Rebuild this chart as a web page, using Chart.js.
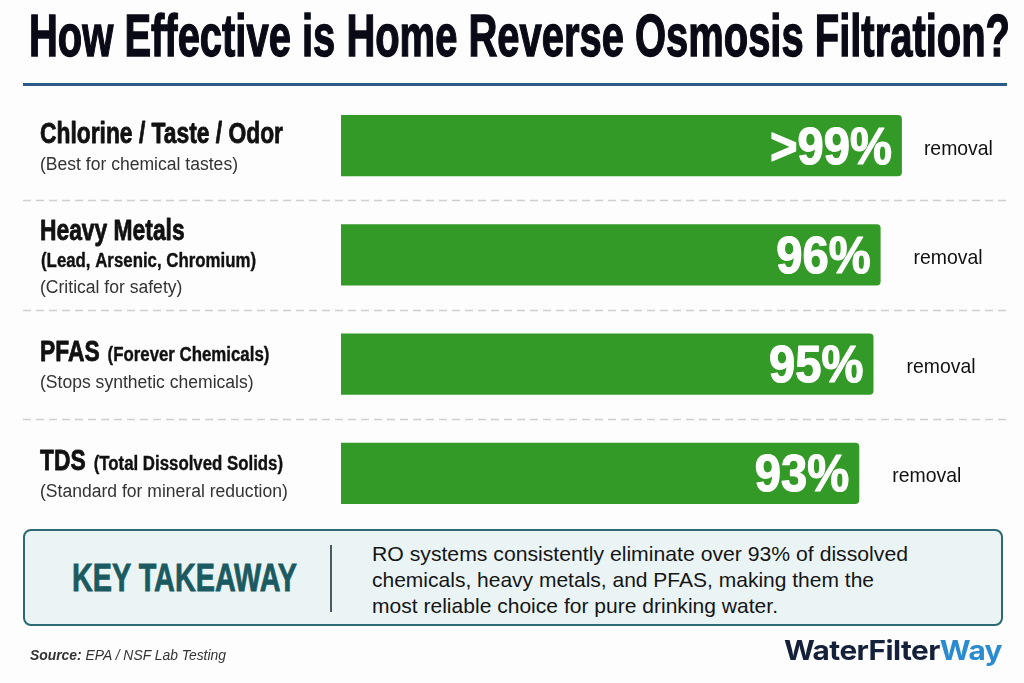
<!DOCTYPE html>
<html>
<head>
<meta charset="utf-8">
<script src="https://cdn.jsdelivr.net/npm/chart.js@4/dist/chart.umd.min.js"></script>
<style>
  body { margin: 0; width: 1024px; height: 683px; overflow: hidden; position: relative; background: #fdfdfd;
         font-family: "Liberation Sans", Arial, sans-serif; }
  #chart { position: absolute; left: 0; top: 0; }
  .fit { position: absolute; white-space: nowrap; transform-origin: 0 0; line-height: 1; }
  #title { left: 29px; top: 6px; font-size: 60px; font-weight: bold; color: #0a0a16;
           -webkit-text-stroke: 1.4px #0a0a16; }
  #rule { position: absolute; left: 23px; top: 83px; width: 984px; height: 3px; background: #2d5b89; }
  #box { position: absolute; left: 23px; top: 529px; width: 980px; height: 97px; box-sizing: border-box;
         border: 2px solid #2b6a72; border-radius: 8px; background: #eaf4f5; }
  #key { left: 72px; top: 558px; font-size: 39px; font-weight: bold; color: #1b5a60;
         -webkit-text-stroke: 0.8px #1b5a60; }
  #divider { position: absolute; left: 330px; top: 545px; width: 2px; height: 67px; background: #4a5a60; }
  .body { left: 372px; font-size: 21px; color: #151515; }
  #source { left: 30px; top: 647px; font-size: 15px; font-style: italic; color: #333; }
  #logo { left: 784px; top: 637px; font-size: 27px; font-weight: bold; color: #15213a;
          font-family: Inter, Roboto, "Noto Sans", sans-serif; letter-spacing: -0.5px; }
</style>
</head>
<body>
<canvas id="chart" width="1024" height="683"></canvas>
<div id="title" class="fit" data-w="981">How Effective is Home Reverse Osmosis Filtration?</div>
<div id="rule"></div>
<div id="box"></div>
<div id="key" class="fit" data-w="225">KEY TAKEAWAY</div>
<div id="divider"></div>
<div class="fit body" style="top:543px" data-w="536">RO systems consistently eliminate over 93% of dissolved</div>
<div class="fit body" style="top:569px" data-w="502">chemicals, heavy metals, and PFAS, making them the</div>
<div class="fit body" style="top:595px" data-w="406">most reliable choice for pure drinking water.</div>
<div id="source" class="fit" data-w="196"><b>Source:</b> EPA / NSF Lab Testing</div>
<div id="logo" class="fit" data-w="218">WaterFilter<span style="color:#2a8cce">Way</span></div>

<script>
// data
const categories = ['Chlorine / Taste / Odor', 'Heavy Metals', 'PFAS', 'TDS'];
const qualifiers = ['', '', '(Forever Chemicals)', '(Total Dissolved Solids)'];
const details = ['', '(Lead, Arsenic, Chromium)', '', ''];
const notes = ['(Best for chemical tastes)', '(Critical for safety)', '(Stops synthetic chemicals)', '(Standard for mineral reduction)'];
const removal = [99, 96, 95, 93];
const valueLabels = ['>99%', '96%', '95%', '93%'];
const unitLabel = 'removal';

// squeeze html text to the width it has in the picture
document.querySelectorAll('.fit').forEach(function (el) {
    var w = el.getBoundingClientRect().width;
    el.style.transform = 'scaleX(' + (parseFloat(el.dataset.w) / w) + ')';
});

const FAM = '"Liberation Sans", Arial, sans-serif';
const fonts = {
    main: 'bold 29px ' + FAM,
    detail: 'bold 20px ' + FAM,
    note: '18px ' + FAM,
    pct: 'bold 52px ' + FAM,
    unit: '21px ' + FAM
};

function squeeze(ctx, font, ref, target) {
    ctx.font = font;
    return target / ctx.measureText(ref).width;
}

// draws squeezed text, heavy > 0 adds an outline to thicken bold faces
function put(ctx, text, x, y, font, sx, color, align, heavy) {
    ctx.save();
    ctx.font = font;
    ctx.fillStyle = color;
    ctx.textAlign = align || 'left';
    ctx.textBaseline = 'alphabetic';
    ctx.translate(x, y);
    ctx.scale(sx, 1);
    ctx.fillText(text, 0, 0);
    if (heavy) {
        ctx.strokeStyle = color;
        ctx.lineWidth = heavy;
        ctx.lineJoin = 'round';
        ctx.strokeText(text, 0, 0);
    }
    ctx.restore();
    ctx.font = font;
    return ctx.measureText(text).width * sx;
}

const rowDecor = {
    id: 'rowDecor',
    beforeDatasetsDraw: function (chart) {
        var ctx = chart.ctx;
        var y = chart.scales.y;
        ctx.save();
        ctx.strokeStyle = '#cfcfcf';
        ctx.lineWidth = 1.5;
        ctx.setLineDash([8, 5]);
        for (var i = 0; i < categories.length - 1; i++) {
            var yy = Math.round((y.getPixelForValue(i) + y.getPixelForValue(i + 1)) / 2) + 0.5;
            ctx.beginPath();
            ctx.moveTo(23, yy);
            ctx.lineTo(1007, yy);
            ctx.stroke();
        }
        ctx.restore();
    },
    afterDatasetsDraw: function (chart) {
        var ctx = chart.ctx;
        var sMain = squeeze(ctx, fonts.main, categories[0], 243);
        var sDet = squeeze(ctx, fonts.detail, details[1], 215);
        var sNote = squeeze(ctx, fonts.note, notes[0], 198);
        var sPct = squeeze(ctx, fonts.pct, valueLabels[0], 122);
        var sUnit = squeeze(ctx, fonts.unit, unitLabel, 69);
        var bars = chart.getDatasetMeta(0).data;
        bars.forEach(function (bar, i) {
            var cy = bar.y;
            var lx = 40;
            var mainY = details[i] ? cy - 15 : cy - 3;
            var w = put(ctx, categories[i], lx, mainY, fonts.main, sMain, '#111111', 'left', 0.8);
            if (qualifiers[i]) put(ctx, qualifiers[i], lx + w + 8, mainY, fonts.detail, sDet, '#111111', 'left', 0.4);
            if (details[i]) put(ctx, details[i], lx + 1, cy + 12, fonts.detail, sDet, '#111111', 'left', 0.4);
            put(ctx, notes[i], lx, details[i] ? cy + 38 : cy + 24, fonts.note, sNote, '#333333');
            put(ctx, valueLabels[i], bar.x - 10, cy + 18, fonts.pct, sPct, '#ffffff', 'right', 1.2);
            put(ctx, unitLabel, bar.x + 33 - (i === 0 ? 11 : 0), cy + 9, fonts.unit, sUnit, '#111111');
        });
    }
};

new Chart(document.getElementById('chart').getContext('2d'), {
    type: 'bar',
    data: {
        labels: categories,
        datasets: [{
            data: removal,
            backgroundColor: '#339a28',
            borderRadius: 4,
            borderSkipped: false,
            categoryPercentage: 1,
            barPercentage: 0.56
        }]
    },
    options: {
        indexAxis: 'y',
        responsive: false,
        animation: false,
        layout: { padding: { left: 341, right: 115, top: 91, bottom: 155 } },
        scales: {
            x: { min: 20, max: 100, display: false },
            y: { display: false }
        },
        plugins: { legend: { display: false }, tooltip: { enabled: false } }
    },
    plugins: [rowDecor]
});
</script>
</body>
</html>
